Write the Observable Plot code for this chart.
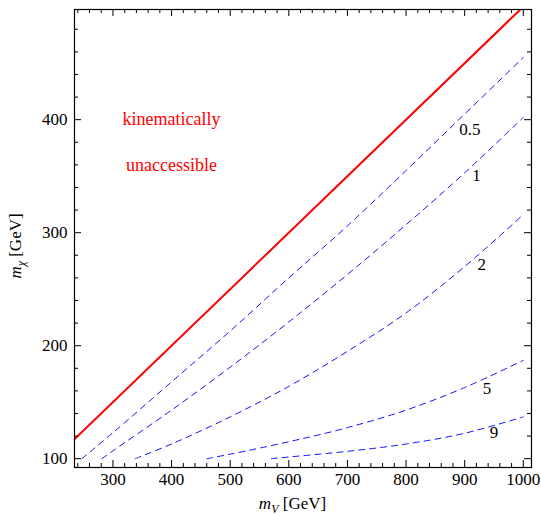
<!DOCTYPE html>
<html><head><meta charset="utf-8">
<script src="https://cdn.jsdelivr.net/npm/d3@7"></script>
<script src="https://cdn.jsdelivr.net/npm/@observablehq/plot@0.6"></script>
<style>html,body{margin:0;padding:0;background:#fff}</style>
</head><body><div id="chart"></div>
<script>
// ---- data ----
const curveNames = ["0.5", "1", "2", "5", "9"];
const c05MV = [247, 300, 400, 500, 600, 700, 800, 900, 1000];
const c05MX = [100, 123, 168, 213, 260, 306, 355, 405, 455];
const c1MV  = [281, 300, 400, 500, 600, 700, 800, 900, 1000];
const c1MX  = [100, 107, 143, 181, 221, 263, 307, 353, 402];
const c2MV  = [338, 400, 500, 600, 700, 800, 900, 1000];
const c2MX  = [100, 113, 137, 164, 195, 229, 270, 316];
const c5MV  = [460, 500, 600, 700, 800, 900, 1000];
const c5MX  = [100, 104, 115, 127.5, 143, 163, 187];
const c9MV  = [570, 600, 700, 800, 900, 1000];
const c9MX  = [100, 101.5, 106.5, 113, 122.5, 137];
const labelMV = [909, 920, 929, 938, 950];
const labelMX = [391, 351, 272, 162, 123];
const boundaryMV = [230, 1000];   // m_chi = m_V / 2
const boundaryMX = [115, 500];
const regionText = ["kinematically", "unaccessible"];
const regionMV = [400, 400];
const regionMX = [400, 360];
const xMajorTicks = [300, 400, 500, 600, 700, 800, 900, 1000];
const yMajorTicks = [100, 200, 300, 400];
const xMinorTicks = [240,260,280,320,340,360,380,420,440,460,480,520,540,560,580,620,640,660,680,720,740,760,780,820,840,860,880,920,940,960,980];
const yMinorTicks = [120,140,160,180,220,240,260,280,320,340,360,380,420,440,460,480];

// ---- layout ----
const W = 541, H = 515, mL = 74, mR = 10, mT = 9, mB = 48;
const xDom = [234.4, 1014], yDom = [92.2, 497.5];
const kx = (W - mL - mR) / (xDom[1] - xDom[0]);
const ky = (H - mT - mB) / (yDom[1] - yDom[0]);
const majorLen = 7, minorLen = 4;
const serif = "'Liberation Serif', 'DejaVu Serif', serif";

const curves = [[c05MV, c05MX], [c1MV, c1MX], [c2MV, c2MX], [c5MV, c5MX], [c9MV, c9MX]];
const curveRows = curves.flatMap(([mv, mx], i) => mv.map((v, j) => ({mv: v, mx: mx[j], k: curveNames[i]})));
const labelRows = curveNames.map((t, i) => ({t, mv: labelMV[i], mx: labelMX[i]}));
const boundaryRows = boundaryMV.map((v, i) => ({mv: v, mx: boundaryMX[i]}));
const regionRows = regionText.map((t, i) => ({t, mv: regionMV[i], mx: regionMX[i]}));

function ticksX(vals, len) {
  return [
    Plot.ruleX(vals, {x: d => d, y1: yDom[0], y2: yDom[0] + len / ky, stroke: "#000", strokeWidth: 1}),
    Plot.ruleX(vals, {x: d => d, y1: yDom[1], y2: yDom[1] - len / ky, stroke: "#000", strokeWidth: 1})
  ];
}
function ticksY(vals, len) {
  return [
    Plot.ruleY(vals, {y: d => d, x1: xDom[0], x2: xDom[0] + len / kx, stroke: "#000", strokeWidth: 1}),
    Plot.ruleY(vals, {y: d => d, x1: xDom[1], x2: xDom[1] - len / kx, stroke: "#000", strokeWidth: 1})
  ];
}

const chart = Plot.plot({
  width: W, height: H,
  marginLeft: mL, marginRight: mR, marginTop: mT, marginBottom: mB,
  style: {fontFamily: serif, fontSize: "17px", background: "#fff", color: "#000"},
  x: {domain: xDom},
  y: {domain: yDom},
  marks: [
    Plot.line(curveRows, {x: "mv", y: "mx", z: "k", stroke: "#1414ff", strokeWidth: 1,
      strokeDasharray: "6,5", curve: "catmull-rom"}),
    Plot.line(boundaryRows, {x: "mv", y: "mx", stroke: "#ff0000", strokeWidth: 2, clip: true}),
    Plot.text(labelRows, {x: "mv", y: "mx", text: "t", fontSize: 17, fill: "#000"}),
    Plot.text(regionRows, {x: "mv", y: "mx", text: "t", fontSize: 18, fill: "#ff0000"}),
    ...ticksX(xMajorTicks, majorLen), ...ticksX(xMinorTicks, minorLen),
    ...ticksY(yMajorTicks, majorLen), ...ticksY(yMinorTicks, minorLen),
    Plot.frame({stroke: "#000", strokeWidth: 1.2}),
    Plot.axisX({ticks: xMajorTicks, tickSize: 0, tickPadding: 5, label: null, tickFormat: d => String(d), fontSize: 17}),
    Plot.axisY({ticks: yMajorTicks, tickSize: 0, tickPadding: 7, label: null, tickFormat: d => String(d), fontSize: 17})
  ]
});
document.getElementById("chart").appendChild(chart);

// axis titles
const svg = d3.select(chart);
const xt = svg.append("text")
  .attr("x", mL + (W - mL - mR) / 2 - 10).attr("y", H - 6)
  .attr("text-anchor", "middle").attr("font-size", 17).attr("font-family", serif).attr("fill", "#000");
xt.append("tspan").attr("font-style", "italic").text("m");
xt.append("tspan").attr("font-style", "italic").attr("font-size", 12).attr("dy", 4).text("V");
xt.append("tspan").attr("dy", -4).text(" [GeV]");

const yt = svg.append("text")
  .attr("transform", `translate(21,${mT + (H - mT - mB) / 2 + 8}) rotate(-90)`)
  .attr("text-anchor", "middle").attr("font-size", 17).attr("font-family", serif).attr("fill", "#000");
yt.append("tspan").attr("font-style", "italic").text("m");
yt.append("tspan").attr("font-style", "italic").attr("font-size", 12).attr("dy", 4).text("χ");
yt.append("tspan").attr("dy", -4).text(" [GeV]");
</script>
</body></html>
